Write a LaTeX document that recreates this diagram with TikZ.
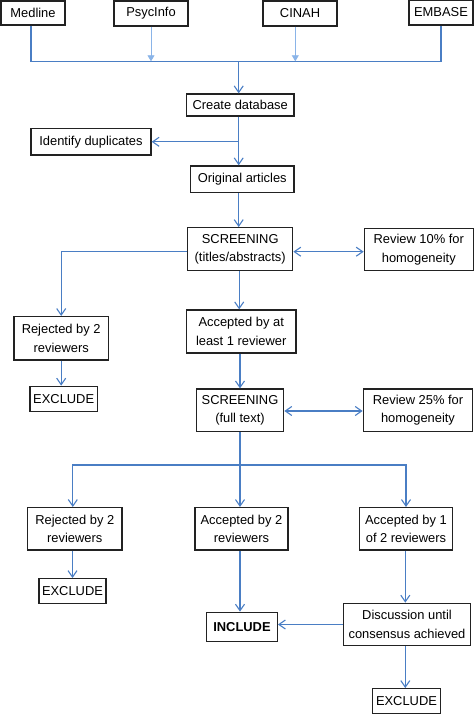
\documentclass[tikz,border=0pt]{standalone}
\usepackage{fontspec}
\setmainfont{Liberation Sans}
\usetikzlibrary{arrows.meta,calc}
\definecolor{flowblue}{HTML}{4A7EC4}
\definecolor{lightblue}{HTML}{8AB4E8}
\definecolor{boxline}{HTML}{222222}
\begin{document}
\begin{tikzpicture}[x=1pt,y=1pt,
  box/.style={draw=boxline, line width=1.3pt, inner sep=0pt, align=center,
    font=\fontsize{12.9}{18.5}\selectfont},
  flow/.style={draw=flowblue, line width=1.1pt},
  arr/.style={flow, -{Straight Barb[length=6.5pt,width=9pt]}},
  darr/.style={flow, {Straight Barb[length=6.5pt,width=9pt]}-{Straight Barb[length=6.5pt,width=9pt]}},
  larr/.style={draw=lightblue, line width=0.9pt, -{Triangle[length=6pt,width=7pt]}}
]
\useasboundingbox (0,0) rectangle (474,-714);
% nodes
\node[box, minimum width=64pt, minimum height=24pt] (medline) at (33,-13) {Medline};
\node[box, minimum width=74pt, minimum height=25pt] (psyc) at (151,-13.5) {PsycInfo};
\node[box, minimum width=74pt, minimum height=25pt] (cinah) at (300,-13.5) {CINAH};
\node[box, minimum width=64pt, minimum height=25pt] (embase) at (441,-12.5) {EMBASE};
\node[box, minimum width=107.7pt, minimum height=22pt] (create) at (240.2,-105) {Create database};
\node[box, minimum width=120pt, minimum height=26.3pt] (dup) at (91,-141.8) {Identify duplicates};
\node[box, minimum width=103.7pt, minimum height=26.7pt] (orig) at (242.2,-179.3) {Original articles};
\node[box, minimum width=105pt, minimum height=43pt] (scr1) at (240.2,-249.2) {SCREENING\\(titles/abstracts)};
\node[box, minimum width=109pt, minimum height=42pt] (rev10) at (418.8,-249.7) {Review 10\% for\\homogeneity};
\node[box, minimum width=94.3pt, minimum height=43.3pt] (rej1) at (61.2,-338.3) {Rejected by 2\\reviewers};
\node[box, minimum width=67.3pt, minimum height=25pt] (exc1) at (63.7,-398.8) {EXCLUDE};
\node[box, minimum width=109.7pt, minimum height=43pt] (acc1) at (241.2,-331.5) {Accepted by at\\least 1 reviewer};
\node[box, minimum width=87.4pt, minimum height=42.3pt] (scr2) at (240,-410.2) {SCREENING\\(full text)};
\node[box, minimum width=109.4pt, minimum height=42.7pt] (rev25) at (418,-410.3) {Review 25\% for\\homogeneity};
\node[box, minimum width=94.3pt, minimum height=42.3pt] (rej2) at (74.8,-528.8) {Rejected by 2\\reviewers};
\node[box, minimum width=93pt, minimum height=42.3pt] (acc2) at (241.5,-528.8) {Accepted by 2\\reviewers};
\node[box, minimum width=92.6pt, minimum height=42.3pt] (acc12) at (406,-528.8) {Accepted by 1\\of 2 reviewers};
\node[box, minimum width=67pt, minimum height=25pt] (exc2) at (72.5,-591.2) {EXCLUDE};
\node[box, minimum width=70.6pt, minimum height=29.4pt, font=\fontsize{12.9}{18.5}\selectfont\bfseries] (incl) at (242,-627) {INCLUDE};
\node[box, minimum width=127.4pt, minimum height=42.4pt] (disc) at (407,-624.5) {Discussion until\\consensus achieved};
\node[box, minimum width=67.6pt, minimum height=24.6pt] (exc3) at (406.5,-701) {EXCLUDE};
% junctions
\coordinate (hub) at (238.7,-61.3);
\coordinate (hub2) at (240,-465);
% connectors
\draw[flow] ([xshift=-2pt]medline.south) |- (hub) -| (embase.south);
\draw[larr] (psyc.south) -- (psyc.south |- hub);
\draw[larr] ([xshift=-4.7pt]cinah.south) -- ([xshift=-4.7pt]cinah.south |- hub);
\draw[arr] (hub) -- (hub |- create.north);
\draw[arr] (hub |- create.south) -- (hub |- orig.north);
\draw[arr] (hub |- dup.east) -- (dup.east);
\draw[arr] (hub |- orig.south) -- (hub |- scr1.north);
\draw[darr] ([yshift=-2.5pt]scr1.east) -- ([yshift=-2.5pt]scr1.east -| rev10.west);
\draw[arr] ([yshift=-2.5pt]scr1.west) -| (rej1.north);
\draw[arr] (rej1.south) -- (rej1.south |- exc1.north);
\draw[arr] ([xshift=-1pt]scr1.south) -- ([xshift=-1pt]scr1.south |- acc1.north);
\draw[arr] (scr2.north |- acc1.south) -- (scr2.north);
\draw[darr] ([yshift=-0.8pt]scr2.east) -- ([yshift=-0.8pt]scr2.east -| rev25.west);
\draw[flow] (scr2.south) -- (hub2);
\draw[arr] (hub2) -| ([xshift=-2pt]rej2.north);
\draw[arr] (hub2) -| (acc12.north);
\draw[arr] (hub2) -- (hub2 |- acc2.north);
\draw[arr] (exc2.north |- rej2.south) -- (exc2.north);
\draw[arr] (hub2 |- acc2.south) -- (hub2 |- incl.north);
\draw[arr] ([xshift=-0.7pt]acc12.south) -- ([xshift=-0.7pt]acc12.south |- disc.north);
\draw[arr] (disc.west) -- (disc.west -| incl.east);
\draw[arr] ([xshift=-0.7pt]acc12.south |- disc.south) -- ([xshift=-0.7pt]acc12.south |- exc3.north);
\end{tikzpicture}
\end{document}
